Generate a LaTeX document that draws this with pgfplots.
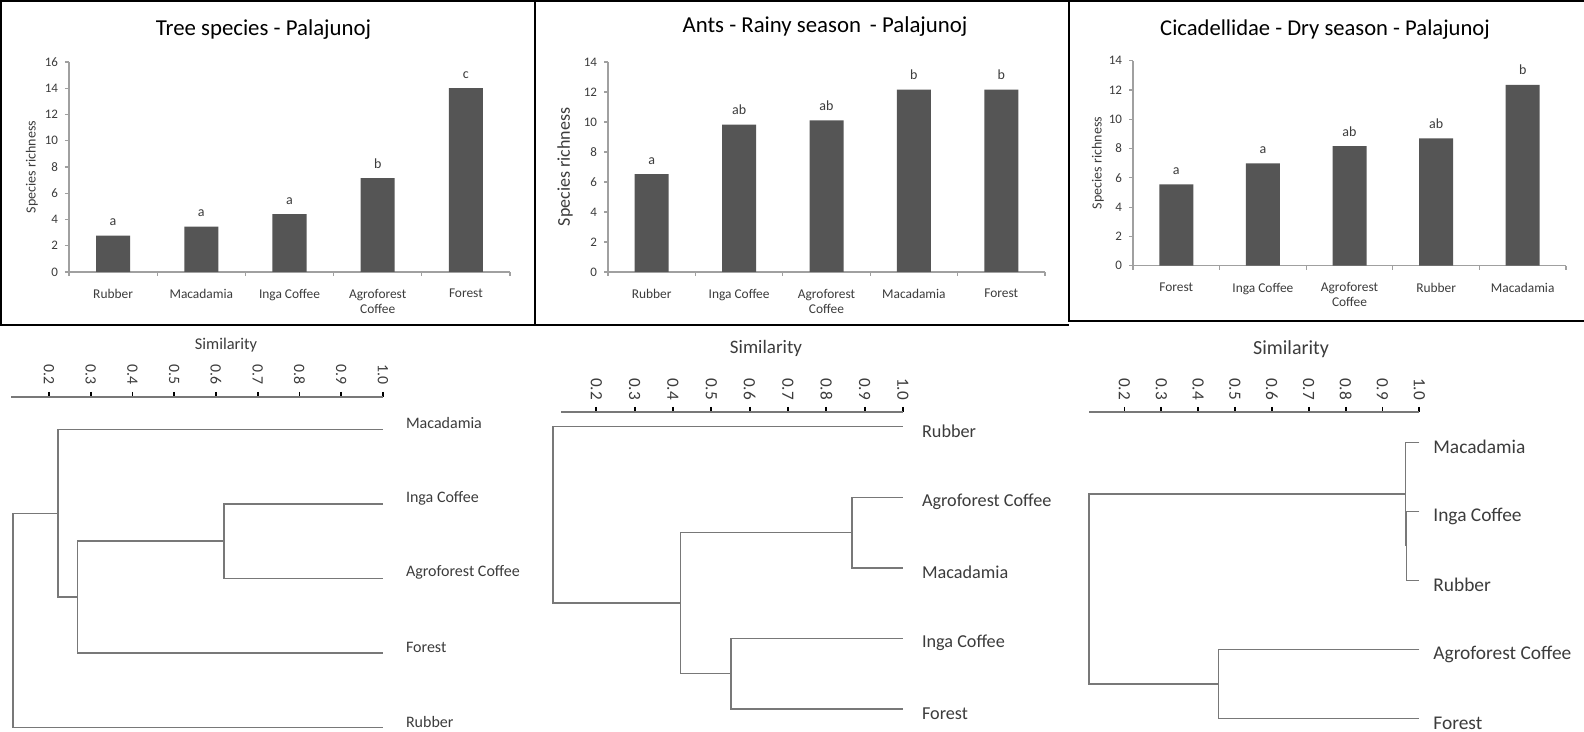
\documentclass[border=0pt]{standalone}
\usepackage{fontspec}
\setmainfont{Carlito}
\usepackage{pgfplots}
\pgfplotsset{compat=1.18}

\definecolor{barfill}{RGB}{85,85,85}
\definecolor{axgray}{RGB}{160,160,160}
\definecolor{txt}{RGB}{60,60,60}
\definecolor{dgray}{RGB}{120,120,120}

\pgfplotsset{
  barchart/.style={
    scale only axis, anchor=south west,
    ybar, bar width=17pt, bar shift=0pt,
    xmin=0.5, xmax=5.5, ymin=0,
    axis x line*=bottom, axis y line*=left,
    axis line style={axgray, line width=0.6pt},
    xtick={0.5,1.5,...,5.5}, x tick label as interval,
    ytick distance=2,
    tick align=outside, major tick length=2pt,
    tick style={axgray, line width=0.6pt},
    x tick label style={font=\fontsize{6.7}{7.4}\selectfont, text=txt, align=center, anchor=north, yshift=-3pt},
    y tick label style={font=\fontsize{6.5}{7}\selectfont, text=txt},
    /pgf/number format/assume math mode=true,
    nodes near coords, point meta=explicit symbolic,
    every node near coord/.append style={font=\fontsize{7}{8}\selectfont, text=txt, anchor=base, yshift=5pt},
  },
  dendro/.style={
    scale only axis, anchor=north west, clip=false,
    y dir=reverse, ymax=5, xmax=1.0,
    axis x line*=top, axis y line=none,
    xtick={0.2,0.3,0.4,0.5,0.6,0.7,0.8,0.9,1.0},
    axis line style={dgray, line width=0.7pt},
    tick align=outside, major tick length=2.5pt,
    tick style={black, line width=0.9pt},
    xticklabel style={rotate=-90, anchor=east, text=txt},
    /pgf/number format/fixed, /pgf/number format/fixed zerofill,
    /pgf/number format/precision=1,
    /pgf/number format/assume math mode=true,
  },
  dline/.style={dgray, line width=0.7pt, mark=none},
}

\begin{document}
\begin{tikzpicture}[x=0.5pt, y=0.5pt]
\path[use as bounding box, fill=white] (0,0) rectangle (1584,732);

% frames of the bar panels
\draw[black, line width=1pt] (1,732) -- (1,407) -- (535,407);
\draw[black, line width=1pt] (0,731) -- (1584,731);
\draw[black, line width=1pt] (535,732) -- (535,407) -- (1069,407);
\draw[black, line width=1pt] (1069,732) -- (1069,411) -- (1584,411);

% ---------- Tree species ----------
\begin{axis}[barchart, at={(34.5pt,230pt)}, width=220.5pt, height=105pt, ymax=16,
  xticklabels={Rubber, Macadamia, Inga Coffee, {Agroforest\\Coffee}, Forest}]
\addplot[fill=barfill, draw=none] coordinates {
  (1,2.77) [a] (2,3.46) [a] (3,4.40) [a] (4,7.15) [b] (5,14.0) [c]};
\end{axis}
\node[font=\fontsize{11.4}{13}\selectfont, anchor=base] at (263.5,696) {Tree species - Palajunoj};
\node[font=\fontsize{7}{8}\selectfont, text=txt, rotate=90] at (32,565) {Species richness};

% ---------- Ants ----------
\begin{axis}[barchart, at={(304pt,230pt)}, width=218.5pt, height=105pt, ymax=14,
  xticklabels={Rubber, Inga Coffee, {Agroforest\\Coffee}, Macadamia, Forest}]
\addplot[fill=barfill, draw=none] coordinates {
  (1,6.52) [a] (2,9.82) [ab] (3,10.1) [ab] (4,12.15) [b] (5,12.15) [b]};
\end{axis}
\node[font=\fontsize{11.4}{13}\selectfont, anchor=base] at (825,699) {Ants - Rainy season\, - Palajunoj};
\node[font=\fontsize{9}{10}\selectfont, text=txt, rotate=90] at (565,565) {Species richness};

% ---------- Cicadellidae ----------
\begin{axis}[barchart, at={(566.5pt,233.15pt)}, width=216.5pt, height=102.5pt, ymax=14,
  xticklabels={Forest, Inga Coffee, {Agroforest\\Coffee}, Rubber, Macadamia}]
\addplot[fill=barfill, draw=none] coordinates {
  (1,5.55) [a] (2,6.99) [a] (3,8.17) [ab] (4,8.70) [ab] (5,12.34) [b]};
\end{axis}
\node[font=\fontsize{11.3}{13}\selectfont, anchor=base] at (1325,696) {Cicadellidae - Dry season - Palajunoj};
\node[font=\fontsize{7}{8}\selectfont, text=txt, rotate=90] at (1098,569) {Species richness};

% ---------- Dendrogram 1 ----------
\begin{axis}[dendro, at={(5.7pt,167.5pt)}, width=185.8pt, height=165.35pt,
  xmin=0.11, ymin=0.567,
  xticklabel style={font=\fontsize{7.9}{8}\selectfont}]
\addplot[dline] coordinates {(1,2) (0.619,2) (0.619,3) (1,3)};
\addplot[dline] coordinates {(0.619,2.5) (0.269,2.5) (0.269,4) (1,4)};
\addplot[dline] coordinates {(1,1) (0.222,1) (0.222,3.25) (0.269,3.25)};
\addplot[dline] coordinates {(0.222,2.125) (0.114,2.125) (0.114,5) (1,5)};
\addplot[draw=none, mark=none, nodes near coords, point meta=explicit symbolic,
  every node near coord/.append style={anchor=west, xshift=8pt, yshift=3pt,
    font=\fontsize{8}{9}\selectfont, text=txt}]
  coordinates {(1,1) [Macadamia] (1,2) [Inga Coffee] (1,3) [Agroforest Coffee]
    (1,4) [Forest] (1,5) [Rubber]};
\end{axis}
\node[font=\fontsize{8.2}{9}\selectfont, text=txt] at (226,387) {Similarity};

% ---------- Dendrogram 2 ----------
\begin{axis}[dendro, at={(280.5pt,160pt)}, width=171pt, height=148.5pt,
  xmin=0.108, ymin=0.792,
  xticklabel style={font=\fontsize{8.6}{9}\selectfont}]
\addplot[dline] coordinates {(1,2) (0.867,2) (0.867,3) (1,3)};
\addplot[dline] coordinates {(1,4) (0.551,4) (0.551,5) (1,5)};
\addplot[dline] coordinates {(0.867,2.5) (0.42,2.5) (0.42,4.5) (0.551,4.5)};
\addplot[dline] coordinates {(1,1) (0.087,1) (0.087,3.5) (0.42,3.5)};
\addplot[draw=none, mark=none, nodes near coords, point meta=explicit symbolic,
  every node near coord/.append style={anchor=west, xshift=6pt, yshift=-2.3pt,
    font=\fontsize{9.1}{10}\selectfont, text=txt}]
  coordinates {(1,1) [Rubber] (1,2) [Agroforest Coffee] (1,3) [Macadamia]
    (1,4) [Inga Coffee] (1,5) [Forest]};
\end{axis}
\node[font=\fontsize{9.5}{10}\selectfont, text=txt] at (766,384) {Similarity};

% ---------- Dendrogram 3 ----------
\begin{axis}[dendro, at={(544.5pt,160pt)}, width=165.15pt, height=153.15pt,
  xmin=0.104, ymin=0.561,
  xticklabel style={font=\fontsize{8.6}{9}\selectfont}]
\addplot[dline] coordinates {(1,2) (0.966,2) (0.966,3) (1,3)};
\addplot[dline] coordinates {(1,1) (0.963,1) (0.963,2.5) (0.966,2.5)};
\addplot[dline] coordinates {(1,4) (0.456,4) (0.456,5) (1,5)};
\addplot[dline] coordinates {(0.963,1.75) (0.1035,1.75) (0.1035,4.5) (0.456,4.5)};
\addplot[draw=none, mark=none, nodes near coords, point meta=explicit symbolic,
  every node near coord/.append style={anchor=west, xshift=3.5pt, yshift=-2.5pt,
    font=\fontsize{9.7}{10}\selectfont, text=txt}]
  coordinates {(1,1) [Macadamia] (1,2) [Inga Coffee] (1,3) [Rubber]
    (1,4) [Agroforest Coffee] (1,5) [Forest]};
\end{axis}
\node[font=\fontsize{10}{11}\selectfont, text=txt] at (1291,383) {Similarity};

\end{tikzpicture}
\end{document}
